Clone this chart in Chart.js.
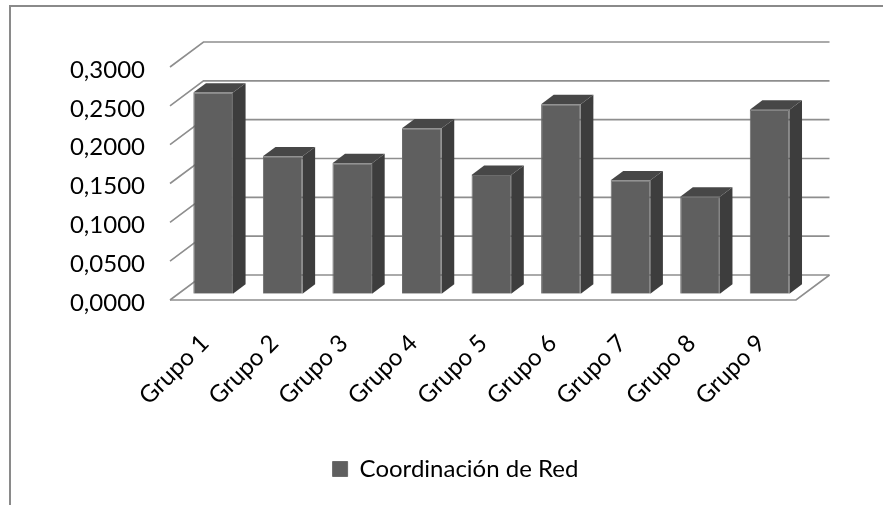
<!DOCTYPE html>
<html>
<head>
<meta charset="utf-8">
<script src="https://cdn.jsdelivr.net/npm/chart.js@4.4.0/dist/chart.umd.min.js"></script>
<style>
  html, body { margin: 0; padding: 0; background: #fff; }
  canvas { display: block; }
</style>
</head>
<body>
<canvas id="chart" width="883" height="505"></canvas>
<script>
const categories = ['Grupo 1', 'Grupo 2', 'Grupo 3', 'Grupo 4', 'Grupo 5', 'Grupo 6', 'Grupo 7', 'Grupo 8', 'Grupo 9'];
const coordinacionRed = [0.259, 0.177, 0.168, 0.213, 0.153, 0.244, 0.146, 0.125, 0.237];
const yTickLabels = ['0,0000', '0,0500', '0,1000', '0,1500', '0,2000', '0,2500', '0,3000'];
const seriesName = 'Coordinación de Red';

const FONT = "Lato, 'Open Sans', sans-serif";
const FONT_SIZE = 24;
const depth = { x: 33.5, y: -25 };     // floor: front edge -> back wall
const barDepth = { x: 12.6, y: -9.4 };  // thickness of each column
const barInset = 0.25;                  // columns sit a quarter of the way into the floor

const wall3d = {
  id: 'wall3d',
  beforeDraw(chart) {
    const ctx = chart.ctx;
    ctx.save();
    ctx.strokeStyle = '#8a8a8a';
    ctx.lineWidth = 2;
    ctx.beginPath();
    ctx.moveTo(10, chart.height);
    ctx.lineTo(10, 6);
    ctx.lineTo(chart.width, 6);
    ctx.stroke();
    ctx.restore();
  },
  beforeDatasetsDraw(chart) {
    const { ctx, scales: { x, y } } = chart;
    const left = x.left, right = x.right;
    ctx.save();
    ctx.strokeStyle = '#8e8e8e';
    ctx.lineWidth = 1.6;
    y.ticks.forEach(t => {
      const py = y.getPixelForValue(t.value);
      ctx.beginPath();
      ctx.moveTo(left, py);
      ctx.lineTo(left + depth.x, py + depth.y);
      ctx.lineTo(right + depth.x, py + depth.y);
      ctx.stroke();
    });
    // floor front and right edge
    const y0 = y.getPixelForValue(0);
    ctx.beginPath();
    ctx.moveTo(left, y0);
    ctx.lineTo(right, y0);
    ctx.lineTo(right + depth.x, y0 + depth.y);
    ctx.stroke();
    ctx.restore();

    // push the columns back into the floor
    ctx.save();
    ctx.translate(depth.x * barInset, depth.y * barInset);
  },
  afterDatasetsDraw(chart) {
    const ctx = chart.ctx;
    chart.getDatasetMeta(0).data.forEach(bar => {
      const l = bar.x - bar.width / 2, r = bar.x + bar.width / 2;
      const t = bar.y, b = bar.base;
      // right side
      ctx.fillStyle = '#3d3d3d';
      ctx.beginPath();
      ctx.moveTo(r, t);
      ctx.lineTo(r + barDepth.x, t + barDepth.y);
      ctx.lineTo(r + barDepth.x, b + barDepth.y);
      ctx.lineTo(r, b);
      ctx.closePath();
      ctx.fill();
      // top
      ctx.fillStyle = '#474747';
      ctx.beginPath();
      ctx.moveTo(l, t);
      ctx.lineTo(l + barDepth.x, t + barDepth.y);
      ctx.lineTo(r + barDepth.x, t + barDepth.y);
      ctx.lineTo(r, t);
      ctx.closePath();
      ctx.fill();
    });
    ctx.restore();
  }
};

new Chart(document.getElementById('chart'), {
  type: 'bar',
  data: {
    labels: categories,
    datasets: [{
      label: seriesName,
      data: coordinacionRed,
      backgroundColor: '#5f5f5f',
      borderColor: '#6c6c6c',
      borderWidth: 1,
      barPercentage: 0.57,
      categoryPercentage: 1
    }]
  },
  options: {
    responsive: false,
    animation: false,
    devicePixelRatio: 1,
    layout: { padding: { top: 67, right: 0, bottom: 14, left: 28 } },
    scales: {
      x: {
        grid: { display: false, drawTicks: false },
        border: { display: false },
        ticks: {
          autoSkip: false,
          maxRotation: 45,
          minRotation: 45,
          padding: 29,
          color: '#000',
          font: { family: FONT, size: FONT_SIZE }
        },
        afterFit(scale) { scale.height = 147; }
      },
      y: {
        min: 0,
        max: 0.3,
        grid: { display: false, drawTicks: false },
        border: { display: false },
        ticks: {
          stepSize: 0.05,
          padding: 25,
          labelOffset: 3,
          color: '#000',
          font: { family: FONT, size: FONT_SIZE },
          callback: (v, i) => yTickLabels[i]
        },
        afterFit(scale) { scale.width = 142; }
      },
      // empty strip on the right, keeps the floor clear of the canvas edge
      yRight: {
        position: 'right',
        grid: { display: false, drawTicks: false },
        border: { display: false },
        ticks: { display: false },
        afterFit(scale) { scale.width = 87; }
      }
    },
    plugins: {
      tooltip: { enabled: false },
      legend: {
        position: 'bottom',
        labels: {
          color: '#000',
          boxWidth: 15,
          boxHeight: 15,
          padding: 10,
          font: { family: FONT, size: FONT_SIZE }
        }
      }
    }
  },
  plugins: [wall3d]
});
</script>
</body>
</html>
